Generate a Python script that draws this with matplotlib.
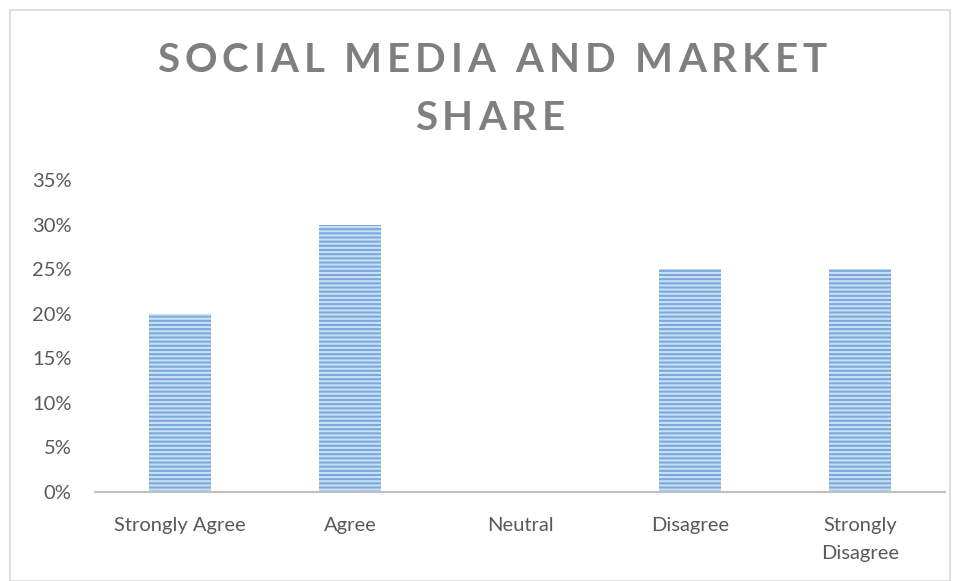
import matplotlib.pyplot as plt
from matplotlib.patches import Rectangle
from matplotlib.ticker import PercentFormatter

categories = ['Strongly Agree', 'Agree', 'Neutral', 'Disagree', 'Strongly\nDisagree']
shares = [20, 30, 0, 25, 25]
y_ticks = [0, 5, 10, 15, 20, 25, 30, 35]
title_lines = ['SOCIAL MEDIA AND MARKET', 'SHARE']

plt.rcParams['font.family'] = ['Lato', 'DejaVu Sans']
plt.rcParams['hatch.linewidth'] = 1.5

fig = plt.figure(figsize=(9.6, 5.81), dpi=100)
ax = fig.add_axes([95 / 960, 1 - 492 / 581, 850 / 960, 312 / 581])

# outer chart border
fig.patches.append(Rectangle((10 / 960, 0.0), 940 / 960, 1 - 10 / 581,
                             transform=fig.transFigure, fill=False,
                             edgecolor='#d9d9d9', linewidth=1.2))

x = range(len(categories))
ax.bar(x, shares, width=0.37, color='#79aadf', edgecolor='#cbdff3',
       hatch='----', linewidth=0)

ax.set_xlim(-0.5, len(categories) - 0.5)
ax.set_ylim(0, 35)
ax.set_yticks(y_ticks)
ax.yaxis.set_major_formatter(PercentFormatter(decimals=0))
ax.set_xticks(list(x))
ax.set_xticklabels(categories, linespacing=1.8)

for s in ['top', 'right', 'left']:
    ax.spines[s].set_visible(False)
ax.spines['bottom'].set_color('#bfbfbf')
ax.spines['bottom'].set_linewidth(1.5)
ax.tick_params(axis='both', length=0, labelsize=14.5, labelcolor='#595959')
ax.tick_params(axis='y', pad=17)
ax.tick_params(axis='x', pad=18)


# title with wide letter spacing, drawn char by char
def spaced_text(s, cx, cy, tracking, **kw):
    renderer = fig.canvas.get_renderer()
    probe = fig.text(0, 0, s, **kw)
    total = probe.get_window_extent(renderer).width + tracking * (len(s) - 1)
    probe.remove()
    left = cx - total / 2
    for i, ch in enumerate(s):
        t = fig.text(0, 0, s[:i], **kw)
        w = t.get_window_extent(renderer).width if i else 0
        t.remove()
        fig.text((left + w + tracking * i) / 960, cy / 581, ch, ha='left', va='center', **kw)


title_kw = dict(fontsize=29, fontweight='bold', color='#7f7f7f')
spaced_text(title_lines[0], 492, 581 - 60, 5.0, **title_kw)
spaced_text(title_lines[1], 490, 581 - 119, 5.0, **title_kw)

fig.savefig('out.png', dpi=100)
